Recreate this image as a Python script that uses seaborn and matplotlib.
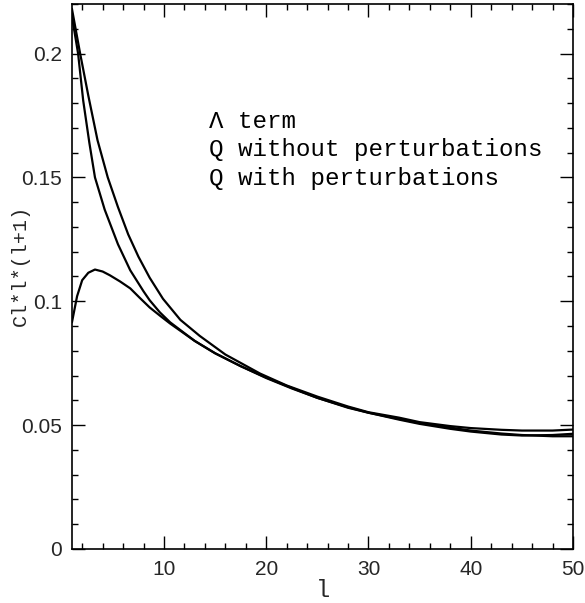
import numpy as np
import pandas as pd
import matplotlib
matplotlib.use("Agg")
import matplotlib.pyplot as plt
import seaborn as sns
from matplotlib.ticker import MultipleLocator

# Lambda term (outer curve)
l_lambda = [1, 1.8, 2.6, 3.5, 4.5, 5.5, 6.5, 7.5, 8.6, 9.9, 11.6, 13.5, 16, 19.4, 22, 25, 28, 30, 33, 35, 38, 40, 43, 45, 48, 50]
v_lambda = [0.218, 0.200, 0.183, 0.165, 0.150, 0.138, 0.127, 0.118, 0.1095, 0.1010, 0.0925, 0.0860, 0.0785, 0.0708, 0.0660, 0.0615, 0.0575, 0.0552, 0.0530, 0.0512, 0.0496, 0.0488, 0.0481, 0.0478, 0.0478, 0.0482]

# Q without perturbations (inner curve)
l_qwo = [1, 1.6, 2.1, 2.7, 3.25, 4.2, 5.5, 6.7, 8.0, 8.6, 9.6, 10.6, 13, 15, 17.5, 20, 22.5, 25, 28, 30, 33, 35, 38, 40, 43, 45, 48, 50]
v_qwo = [0.215, 0.200, 0.181, 0.164, 0.150, 0.137, 0.123, 0.1125, 0.1040, 0.1004, 0.0955, 0.0915, 0.0840, 0.0790, 0.0738, 0.0690, 0.0648, 0.0610, 0.0570, 0.0550, 0.0525, 0.0508, 0.0490, 0.0478, 0.0466, 0.0460, 0.0455, 0.0455]

# Q with perturbations (curve with the peak)
l_qw = [1, 1.5, 2.0, 2.6, 3.25, 4.0, 4.7, 5.7, 6.7, 7.6, 8.6, 9.6, 10.6, 13, 15, 17.5, 20, 22.5, 25, 28, 30, 33, 35, 38, 40, 43, 45, 48, 50]
v_qw = [0.0915, 0.1020, 0.1085, 0.1115, 0.1128, 0.1120, 0.1105, 0.1080, 0.1052, 0.1015, 0.0975, 0.0942, 0.0910, 0.0840, 0.0790, 0.0738, 0.0692, 0.0650, 0.0610, 0.0572, 0.0550, 0.0522, 0.0505, 0.0485, 0.0474, 0.0462, 0.0458, 0.0460, 0.0465]

legend_lines = ["\u039b term", "Q without perturbations", "Q with perturbations"]
x_ticks = [10, 20, 30, 40, 50]
y_ticks = [0, 0.05, 0.1, 0.15, 0.2]
y_tick_labels = ["0", "0.05", "0.1", "0.15", "0.2"]

df = pd.concat([
    pd.DataFrame({"l": l_lambda, "v": v_lambda, "s": legend_lines[0]}),
    pd.DataFrame({"l": l_qwo, "v": v_qwo, "s": legend_lines[1]}),
    pd.DataFrame({"l": l_qw, "v": v_qw, "s": legend_lines[2]}),
])

sns.set_style("ticks")
fig = plt.figure(figsize=(5.85, 6.03), dpi=100)
ax = fig.add_axes([0.123, 0.0896, 0.9795 - 0.123, 0.9934 - 0.0896])

sns.lineplot(data=df, x="l", y="v", hue="s", palette=["black"] * 3,
             legend=False, linewidth=1.6, sort=False, estimator=None, ax=ax)

ax.set_xlim(1, 50)
ax.set_ylim(0, 0.22)
ax.set_xticks(x_ticks)
ax.set_yticks(y_ticks)
ax.set_yticklabels(y_tick_labels)
ax.xaxis.set_minor_locator(MultipleLocator(2))
ax.yaxis.set_minor_locator(MultipleLocator(0.01))
ax.tick_params(which="both", direction="in", top=True, right=True, width=1.0, color="black")
ax.tick_params(which="major", length=9.5, labelsize=15)
ax.tick_params(axis="x", which="major", pad=8)
ax.tick_params(axis="y", which="major", pad=7)
ax.tick_params(which="minor", length=4.5)
for lab in ax.get_xticklabels() + ax.get_yticklabels():
    lab.set_family(["Liberation Sans", "DejaVu Sans"])
for sp in ax.spines.values():
    sp.set_linewidth(1.2)
    sp.set_color("black")

mono = ["Liberation Mono", "DejaVu Sans Mono"]
ax.set_xlabel("l", fontsize=17, family=mono, labelpad=0)
ax.set_ylabel("Cl*l*(l+1)", fontsize=14.5, family=mono)
ax.yaxis.set_label_coords(-0.084, 0.52)

for i, t in enumerate(legend_lines):
    ax.text(0.273, 0.7725 - i * 0.052, t, transform=ax.transAxes,
            fontsize=17.4, family=mono, va="baseline", ha="left", color="black")

fig.savefig("out.png", dpi=100, facecolor="white")
